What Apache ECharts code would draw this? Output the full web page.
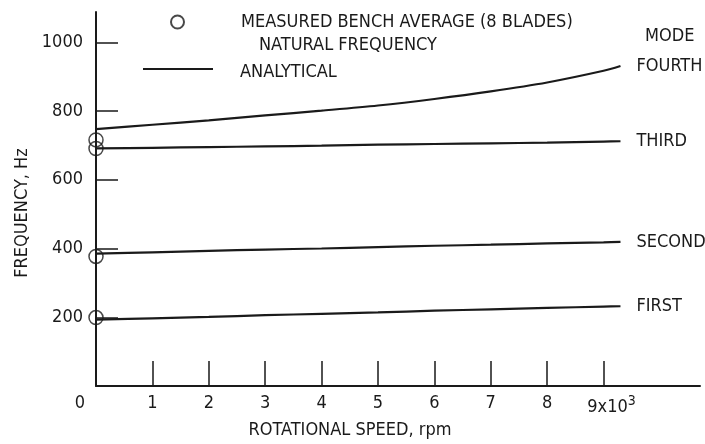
<!DOCTYPE html>
<html><head><meta charset="utf-8">
<script src="https://cdn.jsdelivr.net/npm/echarts@6/dist/echarts.min.js"></script>
<style>html,body{margin:0;padding:0;background:#fff}#c{width:705px;height:444px}</style>
</head><body><div id="c"></div>
<script>
// Rotational speed, thousands of rpm
const rpmThousands = [0, 1, 2, 3, 4, 5, 6, 7, 8, 9, 9.3];
// Analytical natural frequencies, Hz
const firstMode  = [193, 197, 201, 206, 210, 214, 219, 223, 227, 231, 232];
const secondMode = [385, 389, 393, 397, 400, 404, 408, 411, 415, 418, 419];
const thirdMode  = [691, 693, 695, 697, 699, 702, 704, 706, 708, 711, 712];
const fourthMode = [747, 760, 773, 787, 801, 816, 835, 857, 883, 917, 931];
const modeNames = ['FIRST', 'SECOND', 'THIRD', 'FOURTH'];
// Measured bench average (8 blades)
const measuredRpm  = [0, 0, 0, 0];
const measuredFreq = [716, 691, 377, 199];
// Tick values
const xTickValues  = [1, 2, 3, 4, 5, 6, 7, 8, 9];
const xLabelValues = [0, 1, 2, 3, 4, 5, 6, 7, 8, 9];
const yTickValues  = [200, 400, 600, 800, 1000];

const FONT = "'DejaVu Sans Condensed', 'Liberation Sans Narrow', Roboto, sans-serif";
const INK = '#1a1a1a';
const measuredName = 'MEASURED BENCH AVERAGE (8 BLADES)';
const analyticalName = 'ANALYTICAL';

const modeData = [firstMode, secondMode, thirdMode, fourthMode];
const lineSeries = modeData.map((arr, k) => ({
  type: 'line',
  name: analyticalName,
  data: rpmThousands.map((x, i) => [x, arr[i]]),
  symbol: 'none',
  smooth: 0.3,
  lineStyle: { color: INK, width: 2.2 },
  itemStyle: { color: INK },
  endLabel: {
    show: true,
    formatter: () => modeNames[k],
    distance: 16,
    fontFamily: FONT, fontSize: 18, color: INK
  },
  z: 2
}));

const chart = echarts.init(document.getElementById('c'), null, { renderer: 'canvas' });
chart.setOption({
  animation: false,
  backgroundColor: '#fff',
  textStyle: { fontFamily: FONT, color: INK },
  title: {
    text: 'MODE', left: 645, top: 27, padding: 0,
    textStyle: { fontFamily: FONT, fontSize: 18, fontWeight: 'normal', color: INK }
  },
  legend: [
    {
      data: [measuredName],
      left: 170, top: 13, padding: 0,
      itemWidth: 13, itemHeight: 13,
      selectedMode: false,
      formatter: () => '{a|MEASURED BENCH AVERAGE (8 BLADES)}\n{b|NATURAL FREQUENCY}',
      textStyle: {
        fontFamily: FONT, fontSize: 18, color: INK,
        padding: [23, 0, 0, 0],
        rich: {
          a: { fontFamily: FONT, fontSize: 18, lineHeight: 23, color: INK, padding: [0, 0, 0, 52] },
          b: { fontFamily: FONT, fontSize: 18, lineHeight: 23, color: INK, padding: [0, 0, 0, 70] }
        }
      }
    },
    {
      data: [{ name: analyticalName, icon: 'rect' }],
      left: 143, top: 63, padding: 0,
      itemWidth: 70, itemHeight: 2,
      selectedMode: false,
      formatter: n => '{t|' + n + '}',
      textStyle: {
        fontFamily: FONT, fontSize: 18, color: INK,
        padding: [6, 0, 0, 0],
        rich: { t: { fontFamily: FONT, fontSize: 18, color: INK, padding: [0, 0, 0, 22] } }
      }
    }
  ],
  grid: { left: 96, right: 5, top: 12, bottom: 58 },
  xAxis: {
    type: 'value', min: 0, max: 10.71, interval: 1,
    axisLine: { lineStyle: { color: INK, width: 2 } },
    axisTick: { show: true, inside: true, length: 25, customValues: xTickValues, lineStyle: { color: INK, width: 1.5 } },
    axisLabel: {
      customValues: xLabelValues, margin: 8, fontSize: 18, color: INK, fontFamily: FONT,
      formatter: v => v === 0 ? '{z|0}' : (v === 9 ? '{n|9x10}{s|3}' : String(v)),
      rich: {
        z: { fontFamily: FONT, fontSize: 18, color: INK, padding: [0, 32, 0, 0] },
        n: { fontFamily: FONT, fontSize: 18, color: INK, padding: [0, 0, 0, 16] },
        s: { fontFamily: FONT, fontSize: 14, color: INK, padding: [0, 0, 12, 0] }
      }
    },
    splitLine: { show: false },
    name: 'ROTATIONAL SPEED, rpm', nameLocation: 'middle', nameGap: 34,
    nameTextStyle: { fontFamily: FONT, fontSize: 18, color: INK, padding: [0, 96, 0, 0] }
  },
  yAxis: {
    type: 'value', min: 0, max: 1088, interval: 200,
    axisLine: { show: true, lineStyle: { color: INK, width: 2 } },
    axisTick: { show: true, inside: true, length: 22, customValues: yTickValues, lineStyle: { color: INK, width: 1.5 } },
    axisLabel: { customValues: yTickValues, margin: 13, fontSize: 18, color: INK, fontFamily: FONT, formatter: v => String(v) },
    splitLine: { show: false },
    name: 'FREQUENCY, Hz', nameLocation: 'middle', nameGap: 64,
    nameTextStyle: { fontFamily: FONT, fontSize: 18, color: INK, padding: [0, 28, 0, 0] }
  },
  series: [
    ...lineSeries,
    {
      type: 'scatter',
      name: measuredName,
      data: measuredRpm.map((x, i) => [x, measuredFreq[i]]),
      symbol: 'circle', symbolSize: 14,
      itemStyle: { color: 'rgba(0,0,0,0)', borderColor: INK, borderWidth: 1.5 },
      clip: false,
      z: 3
    }
  ]
});
</script>
</body></html>
